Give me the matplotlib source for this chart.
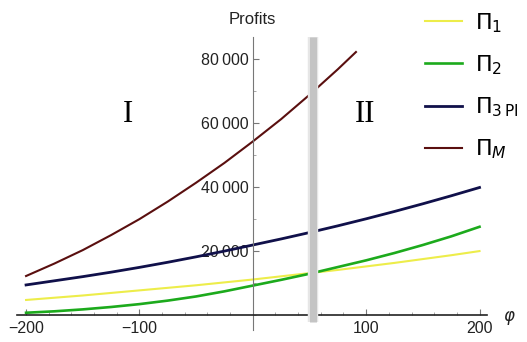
import numpy as np
import matplotlib.pyplot as plt
from matplotlib.ticker import FixedLocator, MultipleLocator, FuncFormatter

# valori
phi = [-200, -175, -150, -125, -100, -75, -50, -25, 0, 25, 50, 75, 100, 125, 150, 175, 200]
profit_1 = [4700, 5400, 6100, 6900, 7700, 8500, 9300, 10200, 11100, 12100, 13100,
            14100, 15200, 16300, 17500, 18700, 20000]
profit_2 = [700, 1150, 1750, 2500, 3400, 4500, 5800, 7400, 9200, 11000, 12900,
            15000, 17100, 19400, 21900, 24600, 27600]
profit_3pi = [9400, 10700, 12000, 13400, 14900, 16500, 18200, 20000, 21900, 23800, 25800,
              27900, 30100, 32400, 34800, 37300, 39900]

phi_m = [-200, -175, -150, -125, -100, -75, -50, -25, 0, 25, 50, 75, 91]
profit_m = [12200, 16100, 20300, 25000, 30000, 35500, 41400, 47600, 54300, 61300,
            68900, 76900, 82300]

phi_prag = 53  # pragul dintre zonele I si II

plt.rcParams['font.family'] = ['Liberation Sans', 'DejaVu Sans']
plt.rcParams['mathtext.fontset'] = 'dejavusans'

fig = plt.figure(figsize=(5.27, 3.42), dpi=100)
ax = fig.add_axes([17 / 527, 12 / 342, 470 / 527, 293 / 342])

ax.plot(phi, profit_1, color='#eded4a', linewidth=1.5, label=r'$\Pi_1$')
ax.plot(phi, profit_2, color='#1caa1c', linewidth=1.9, label=r'$\Pi_2$')
ax.plot(phi, profit_3pi, color='#10104a', linewidth=2.0, label=r'$\Pi_{\mathrm{3\,PI}}$')
ax.plot(phi_m, profit_m, color='#5a0f0f', linewidth=1.5, label=r'$\Pi_M$')

# banda gri verticala
ax.plot([phi_prag, phi_prag], [-2200, 87000], color='#e6e6e6', linewidth=7.5,
        solid_capstyle='butt', zorder=5)
ax.plot([phi_prag, phi_prag], [-2200, 87000], color='#c4c4c4', linewidth=5,
        solid_capstyle='butt', zorder=6)

ax.set_xlim(-208, 206.6)
ax.set_ylim(-4700, 87000)

# axe in stil Mathematica, prin origine
for s in ['top', 'right']:
    ax.spines[s].set_visible(False)
ax.spines['left'].set_position(('data', 0))
ax.spines['bottom'].set_position(('data', 0))
ax.spines['left'].set_color('#777777')
ax.spines['bottom'].set_color('#222222')
ax.spines['bottom'].set_linewidth(1.2)

ax.xaxis.set_major_locator(FixedLocator([-200, -100, 100, 200]))
ax.xaxis.set_minor_locator(MultipleLocator(20))
ax.yaxis.set_major_locator(FixedLocator([20000, 40000, 60000, 80000]))
ax.yaxis.set_minor_locator(MultipleLocator(10000))
ax.yaxis.set_major_formatter(FuncFormatter(lambda v, p: f'{int(v):,}'.replace(',', '\u2009')))
ax.tick_params(axis='both', which='major', direction='in', length=4, width=0.8,
               color='#777777', labelsize=11.5, labelcolor='#222222', pad=3)
ax.tick_params(axis='both', which='minor', direction='in', length=2.5, width=0.6,
               color='#999999')
ax.tick_params(axis='x', pad=4)

ax.text(0, 92500, 'Profits', ha='center', va='center', fontsize=12,
        color='#222222', clip_on=False)
ax.text(226, -1000, r'$\varphi$', ha='center', va='center', fontsize=12,
        color='#222222', clip_on=False)

ax.text(-110, 62900, 'I', ha='center', va='center', fontsize=22,
        family=['Liberation Serif', 'DejaVu Serif'])
ax.text(99, 62900, 'II', ha='center', va='center', fontsize=22,
        family=['Liberation Serif', 'DejaVu Serif'])

fig.legend(loc='upper left', bbox_to_anchor=(425 / 527, 1 - 11 / 342), frameon=False,
           fontsize=16, handlelength=1.65, handletextpad=0.6, labelspacing=0.84,
           borderpad=0, borderaxespad=0)

plt.savefig('out.png', dpi=100)
